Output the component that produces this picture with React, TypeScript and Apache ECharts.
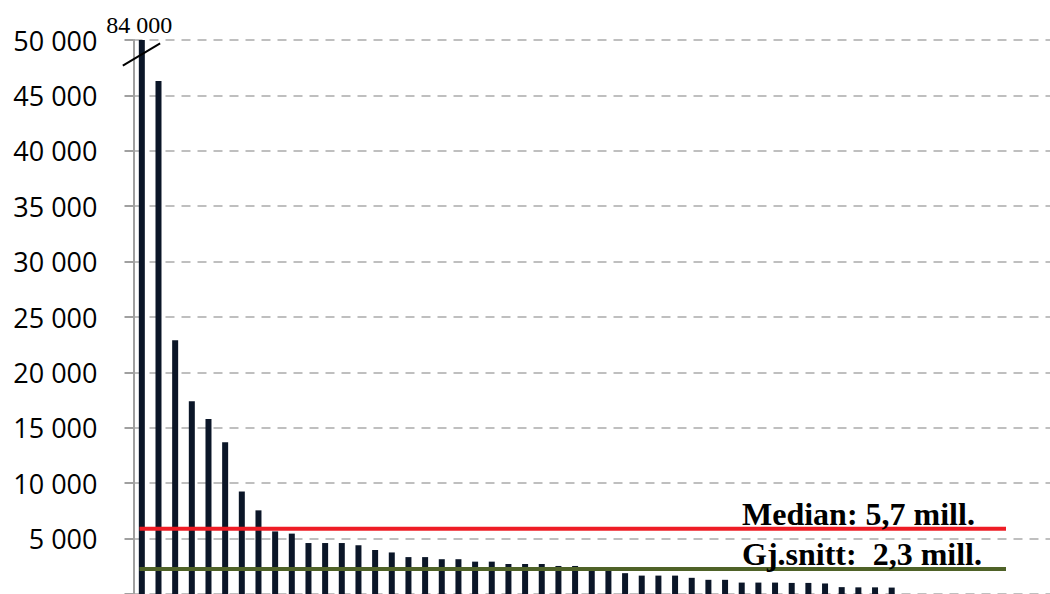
import React, { useEffect, useRef } from "react";
import * as echarts from "echarts";

// ---- data ----
const categories: string[] = Array.from({ length: 55 }, (_, i) => String(i + 1));
const values: number[] = [
  84000, 46300, 22900, 17400, 15800, 13700, 9250, 7550, 5650, 5450,
  4600, 4600, 4600, 4400, 3970, 3750, 3330, 3330, 3140, 3140,
  2920, 2920, 2710, 2710, 2710, 2530, 2530, 2110, 2110, 1880,
  1660, 1660, 1660, 1460, 1280, 1280, 1030, 1030, 1030, 1000,
  1000, 950, 620, 600, 600, 580,
];
const brokenBarLabel = "84 000";
const medianValue = 5900;
const medianLabel = "Median: 5,7 mill.";
const meanValue = 2250;
const meanLabel = "Gj.snitt:\u00a0 2,3 mill.";
const yMin = 0;
const yMax = 50000;
const yStep = 5000;

const fmt = (v: number) =>
  v === 0 ? "" : String(v).replace(/\B(?=(\d{3})+(?!\d))/g, " ");

export default function App() {
  const ref = useRef<HTMLDivElement>(null);

  useEffect(() => {
    if (!ref.current) return;
    const chart = echarts.init(ref.current, undefined, { renderer: "svg" });
    chart.setOption({
      animation: false,
      backgroundColor: "#ffffff",
      grid: { left: 133.5, right: -10.6, top: 40, bottom: -2.2, containLabel: false },
      xAxis: {
        type: "category",
        data: categories,
        boundaryGap: true,
        axisLine: { show: false },
        axisTick: { show: false },
        axisLabel: { show: false },
        splitLine: { show: false },
      },
      yAxis: {
        type: "value",
        min: yMin,
        max: yMax,
        interval: yStep,
        axisLine: { show: true, lineStyle: { color: "#a0a0a0", width: 2 } },
        axisTick: { show: true, inside: false, length: 9, lineStyle: { color: "#a0a0a0", width: 2 } },
        axisLabel: {
          formatter: fmt,
          margin: 36,
          color: "#000",
          fontFamily: "Open Sans",
          fontSize: 27,
        },
        splitLine: { show: true, lineStyle: { color: "#bfbfbf", width: 2, type: [9, 7] } },
      },
      series: [
        {
          type: "bar",
          data: values,
          barWidth: 6,
          clip: true,
          itemStyle: { color: "#0b1628" },
        },
      ],
    });

    const yMed = chart.convertToPixel({ yAxisIndex: 0 }, medianValue) as number;
    const yMean = chart.convertToPixel({ yAxisIndex: 0 }, meanValue) as number;
    const yTop = chart.convertToPixel({ yAxisIndex: 0 }, yMax) as number;
    const x0 = chart.convertToPixel({ xAxisIndex: 0 }, categories[0]) as number;
    const lineStart = 139.5;
    const lineEnd = 1006;
    const labelX = 742;
    const labelFont = 'bold 32px "Liberation Serif"';

    chart.setOption({
      graphic: [
        {
          type: "line",
          z: 100,
          shape: { x1: lineStart, y1: yMed, x2: lineEnd, y2: yMed },
          style: { stroke: "#ee1c25", lineWidth: 4 },
        },
        {
          type: "line",
          z: 100,
          shape: { x1: lineStart, y1: yMean, x2: lineEnd, y2: yMean },
          style: { stroke: "#4f6228", lineWidth: 4 },
        },
        {
          type: "text",
          z: 101,
          x: labelX,
          y: yMed - 14.6,
          style: {
            text: medianLabel,
            font: labelFont,
            fill: "#000",
            align: "left",
            textAlign: "left",
            verticalAlign: "middle",
            textVerticalAlign: "middle",
          },
        },
        {
          type: "text",
          z: 101,
          x: labelX,
          y: yMean - 14.6,
          style: {
            text: meanLabel,
            font: labelFont,
            fill: "#000",
            align: "left",
            textAlign: "left",
            verticalAlign: "middle",
            textVerticalAlign: "middle",
          },
        },
        {
          type: "line",
          z: 101,
          shape: { x1: x0 - 19, y1: yTop + 25.7, x2: x0 + 18.3, y2: yTop + 3.3 },
          style: { stroke: "#000", lineWidth: 2 },
        },
        {
          type: "text",
          z: 101,
          x: x0 - 2.5,
          y: yTop - 15,
          style: {
            text: brokenBarLabel,
            font: '24px "Liberation Serif"',
            fill: "#000",
            align: "center",
            textAlign: "center",
            verticalAlign: "middle",
            textVerticalAlign: "middle",
          },
        },
      ],
    });

    return () => chart.dispose();
  }, []);

  return (
    <div
      ref={ref}
      style={{ position: "fixed", left: 0, top: 0, width: 1050, height: 594 }}
    />
  );
}
